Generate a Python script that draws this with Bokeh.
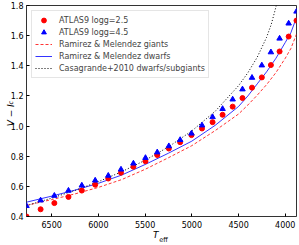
from bokeh.plotting import figure
from bokeh.models import Range1d, FixedTicker, Legend, LegendItem, LinearAxis
from bokeh.embed import file_html
from bokeh.resources import INLINE

# ATLAS9 synthetic colours
teff_atlas = [6769, 6618, 6471, 6320, 6177, 6034, 5894, 5758, 5625, 5496, 5370, 5246, 5125,
              5004, 4891, 4778, 4671, 4563, 4458, 4356, 4251, 4154, 4061, 3964, 3880]
vi_logg25 = [0.400, 0.448, 0.489, 0.530, 0.572, 0.611, 0.652, 0.691, 0.730, 0.767, 0.808, 0.851,
             0.893, 0.940, 0.984, 1.026, 1.075, 1.129, 1.186, 1.255, 1.323, 1.405, 1.495, 1.594, 1.700]
vi_logg45 = [0.470, 0.507, 0.538, 0.572, 0.606, 0.639, 0.671, 0.712, 0.752, 0.789, 0.826, 0.867,
             0.908, 0.951, 1.005, 1.060, 1.114, 1.177, 1.244, 1.321, 1.403, 1.490, 1.581, 1.681, 1.760]

# Ramirez & Melendez relations
teff_rm = [6769, 6500, 6250, 6000, 5750, 5500, 5250, 5000, 4750, 4500, 4400, 4300, 4200, 4100,
           4000, 3940, 3880]
vi_rm_giants = [0.474, 0.512, 0.550, 0.593, 0.645, 0.713, 0.790, 0.870, 0.970, 1.080, 1.140,
                1.205, 1.275, 1.355, 1.450, 1.515, 1.610]
vi_rm_dwarfs = [0.495, 0.535, 0.575, 0.620, 0.675, 0.745, 0.820, 0.900, 1.005, 1.130, 1.200,
                1.280, 1.360, 1.450, 1.555, 1.620, 1.720]

# Casagrande+2010
teff_cas = [6769, 6500, 6250, 6000, 5750, 5500, 5250, 5000, 4750, 4500, 4400, 4300, 4200, 4150,
            4100, 4080]
vi_cas = [0.472, 0.522, 0.573, 0.631, 0.697, 0.773, 0.862, 0.968, 1.098, 1.268, 1.354, 1.457,
          1.589, 1.675, 1.790, 1.855]

x_ticks = [6500, 6000, 5500, 5000, 4500, 4000]
y_ticks = [0.4, 0.6, 0.8, 1.0, 1.2, 1.4, 1.6, 1.8]

NB = "\u00a0"

p = figure(width=304, height=250, output_backend="svg", toolbar_location=None,
           x_range=Range1d(6769, 3880), y_range=Range1d(0.4, 1.8),
           min_border_left=30, min_border_right=4, min_border_top=9, min_border_bottom=25,
           margin=(-4, -4, -4, -4))
p.grid.visible = False
p.background_fill_color = "white"
p.border_fill_color = "white"
p.outline_line_color = "black"
p.outline_line_alpha = 0.8
p.outline_line_width = 1

p.xaxis.ticker = FixedTicker(ticks=x_ticks, minor_ticks=[])
p.yaxis.ticker = FixedTicker(ticks=y_ticks, minor_ticks=[])
p.axis.axis_line_color = None
p.axis.major_tick_in = 3
p.axis.major_tick_out = 0
p.axis.minor_tick_in = 0
p.axis.minor_tick_out = 0
p.axis.major_tick_line_color = "black"
p.axis.major_label_text_font = "DejaVu Sans"
p.axis.major_label_text_font_size = "8px"
p.axis.major_label_text_color = "black"
p.yaxis.major_label_standoff = 3
p.xaxis.major_label_standoff = 4
p.yaxis.major_label_overrides = {t: f"{t:.1f}" for t in y_ticks}

# axis titles: main part on the main axes, subscripts on bare extra axes
for ax, txt, so in ((p.yaxis[0], "V − I" + NB * 3, -8), (p.xaxis[0], "T" + NB * 4, -1)):
    ax.axis_label = txt
    ax.axis_label_text_font = "DejaVu Sans"
    ax.axis_label_text_font_style = "italic"
    ax.axis_label_text_font_size = "9px"
    ax.axis_label_text_color = "black"
    ax.axis_label_standoff = so

def sub_axis(txt, style, so):
    a = LinearAxis(ticker=FixedTicker(ticks=[], minor_ticks=[]), axis_line_color=None,
                   major_tick_in=0, major_tick_out=0, minor_tick_in=0, minor_tick_out=0,
                   axis_label=txt, axis_label_text_font="DejaVu Sans",
                   axis_label_text_font_style=style, axis_label_text_font_size="6.5px",
                   axis_label_text_color="black", axis_label_standoff=so)
    return a

p.add_layout(sub_axis(NB * 8 + "c", "italic", -12), "left")
p.add_layout(sub_axis(NB * 2 + "eff", "normal", -7), "below")

r_g = p.line(teff_rm, vi_rm_giants, line_color="red", line_dash="3 2", line_width=0.8)
r_d = p.line(teff_rm, vi_rm_dwarfs, line_color="blue", line_width=0.8)
r_c = p.line(teff_cas, vi_cas, line_color="black", line_dash="1 2", line_width=1)
r_25 = p.scatter(teff_atlas, vi_logg25, marker="circle", size=5, color="red")
r_45 = p.scatter(teff_atlas, vi_logg45, marker="triangle", size=5.5, color="blue")

legend = Legend(items=[
    LegendItem(label="ATLAS9 logg=2.5", renderers=[r_25]),
    LegendItem(label="ATLAS9 logg=4.5", renderers=[r_45]),
    LegendItem(label="Ramirez & Melendez giants", renderers=[r_g]),
    LegendItem(label="Ramirez & Melendez dwarfs", renderers=[r_d]),
    LegendItem(label="Casagrande+2010 dwarfs/subgiants", renderers=[r_c]),
], location="top_left", margin=5, padding=3, spacing=0, glyph_width=17, glyph_height=12,
   label_height=12, label_standoff=7, label_text_font="DejaVu Sans", label_text_font_size="8px",
   border_line_color="#cccccc", border_line_width=1, background_fill_alpha=0.8)
p.add_layout(legend)

open("out.html", "w").write(file_html(p, INLINE))
